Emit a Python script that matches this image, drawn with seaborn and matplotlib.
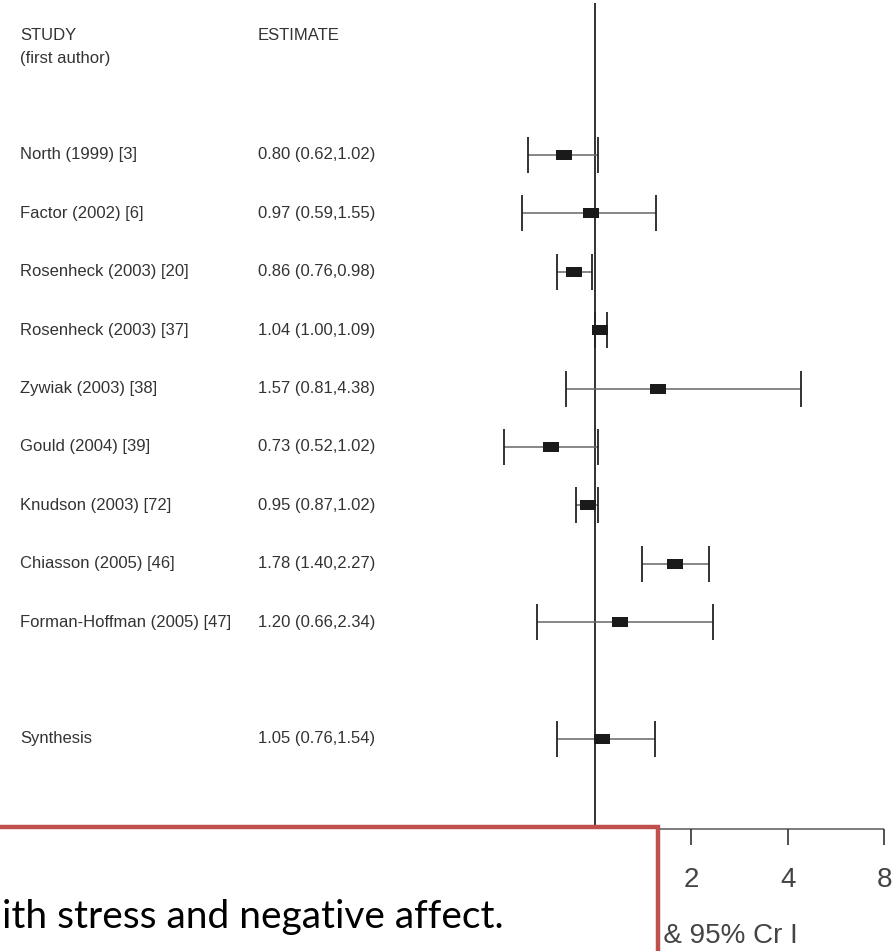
import numpy as np
import pandas as pd
import seaborn as sns
import matplotlib.pyplot as plt
from matplotlib.path import Path
from matplotlib.patches import Rectangle
from matplotlib.transforms import blended_transform_factory

# forest plot data
studies = ['North (1999) [3]', 'Factor (2002) [6]', 'Rosenheck (2003) [20]',
           'Rosenheck (2003) [37]', 'Zywiak (2003) [38]', 'Gould (2004) [39]',
           'Knudson (2003) [72]', 'Chiasson (2005) [46]', 'Forman-Hoffman (2005) [47]',
           'Synthesis']
est = [0.80, 0.97, 0.86, 1.04, 1.57, 0.73, 0.95, 1.78, 1.20, 1.05]
lo = [0.62, 0.59, 0.76, 1.00, 0.81, 0.52, 0.87, 1.40, 0.66, 0.76]
hi = [1.02, 1.55, 0.98, 1.09, 4.38, 1.02, 1.02, 2.27, 2.34, 1.54]
rows = [0, 1, 2, 3, 4, 5, 6, 7, 8, 10]
ticks = [0.25, 0.5, 1, 2, 4, 8]

df = pd.DataFrame({'study': studies, 'est': est, 'lo': lo, 'hi': hi, 'row': rows})

W, H = 895, 951
ROW0, STEP = 155, 58.4
X1, OCT = 595, 96.5

def r(py):  # pixel y -> row units
    return (py - ROW0) / STEP

sns.set_style('white')
fig = plt.figure(figsize=(W / 100, H / 100), dpi=100)
ax = fig.add_axes([0, 0, 1, 1])
ax.set_xscale('log', base=2)
ax.set_xlim(2 ** (-X1 / OCT), 2 ** ((W - X1) / OCT))
ax.set_ylim(r(H), r(0))
ax.axis('off')

ink = '#222222'
# reference line at 1
ax.vlines(1, r(3), r(829), color=ink, lw=1.3, zorder=2)

# CI lines and caps
ax.hlines(df['row'], df['lo'], df['hi'], color='#666666', lw=1.1, zorder=3)
cap = 18 / STEP
ax.vlines(df['lo'], df['row'] - cap, df['row'] + cap, color=ink, lw=1.3, zorder=3)
ax.vlines(df['hi'], df['row'] - cap, df['row'] + cap, color=ink, lw=1.3, zorder=3)

box = Path([(-1.5, -1), (1.5, -1), (1.5, 1), (-1.5, 1), (-1.5, -1)])
sns.scatterplot(data=df, x='est', y='row', marker=box, s=118, color='#1a1a1a',
                linewidth=0, ax=ax, zorder=4, legend=False)
ax.set_xlabel('')
ax.set_ylabel('')

# x axis
ya = r(829)
ax.hlines(ya, ticks[0], ticks[-1], color='#666666', lw=1.2, zorder=2)
ax.vlines(ticks, ya, r(845), color='#333333', lw=1.2, zorder=2)
for t in ticks:
    ax.text(t, r(887), f'{t:g}', ha='center', va='baseline', fontsize=20,
            color='#444444', family='Liberation Sans')
ax.text(2 ** ((798 - X1) / OCT), r(943), 'Odds ratio  & 95% Cr I', ha='right',
        va='baseline', fontsize=20, color='#444444', family='Liberation Sans')

# table text
tr = blended_transform_factory(ax.transAxes, ax.transData)
tkw = dict(fontsize=12, color='#333333', family='Liberation Sans', va='center',
           transform=tr)
ax.text(20 / W, r(35), 'STUDY', **tkw)
ax.text(20 / W, r(59), '(first author)', **tkw)
ax.text(258 / W, r(35), 'ESTIMATE', **tkw)
for s, e, l, h, rw in zip(studies, est, lo, hi, rows):
    ax.text(20 / W, rw, s, **tkw)
    ax.text(258 / W, rw, f'{e:.2f} ({l:.2f},{h:.2f})', **tkw)

# overlay box from the slide
fig.patches.append(Rectangle((-10 / W, -10 / H), (658 + 10) / W, (951 - 827 + 10) / H,
                             transform=fig.transFigure, facecolor='white',
                             edgecolor='#C0504D', lw=3.2, zorder=10))
fig.text(2 / W, 1 - 928 / H, 'ith stress and negative affect.', fontsize=28,
         family='Lato', color='black', va='baseline', zorder=11)

fig.savefig('out.png', dpi=100)
